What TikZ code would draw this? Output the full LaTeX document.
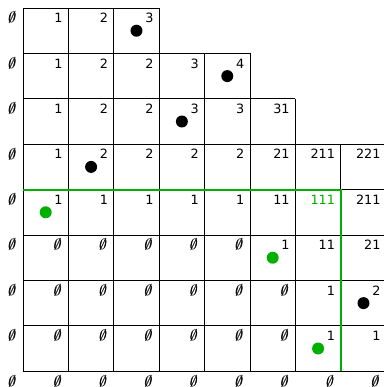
\documentclass[tikz,border=0pt]{standalone}
\usepackage{fontspec}
\setmainfont{DejaVu Sans}
\definecolor{gr}{RGB}{0,175,0}
\newcommand\emptysym{{\fontsize{11}{12}\selectfont\rlap{$\emptyset$}\kern0.3pt$\emptyset$}}
\begin{document}
\begin{tikzpicture}[x=0.75pt,y=-0.75pt,
  lab/.style={font=\fontsize{9.6}{11}\selectfont, inner sep=0pt, anchor=north east, text height=7pt, text depth=0pt},
  esym/.style={inner sep=0pt, anchor=north east, text height=7.6pt, text depth=0pt, xslant=0.2, transform shape},
  grd/.style={line width=0.7pt, black},
  dotb/.style={circle, fill=black, draw=none, minimum size=9pt, inner sep=0pt},
  dotg/.style={dotb, fill=gr},
  gline/.style={gr, line width=1.6pt, line join=miter}]
\useasboundingbox (0,0) rectangle (384,387);
\clip (0,0) rectangle (384,387);
% horizontal grid lines
\foreach \j/\e in {0/3,1/5,2/6,3/8,4/8,5/8,6/8,7/8,8/8}
  \draw[grd] ({23},{8+45.4*\j}) -- ({23+45.4*\e},{8+45.4*\j});
% vertical grid lines
\foreach \i/\s in {0/0,1/0,2/0,3/0,4/1,5/1,6/2,7/3,8/3}
  \draw[grd] ({23+45.4*\i},{8+45.4*\s}) -- ({23+45.4*\i},{8+45.4*8});
% green path
\coordinate (g0) at ({23},{8+45.4*4});
\coordinate (g1) at ({23+45.4*7},{8+45.4*4});
\coordinate (g2) at ({23+45.4*7},{8+45.4*8});
\draw[gline] (g0) -- (g1) -- (g2);
% empty-set labels: columns 0 .. n-1 of each row line
\foreach \j/\n in {0/1,1/1,2/1,3/1,4/1,5/6,6/7,7/7,8/9}
  \foreach \ii in {1,...,\n} {
    \pgfmathtruncatemacro\i{\ii-1}
    \begin{scope}[shift={({23+45.4*\i-5.5},{8+45.4*\j+4.5})}]
      \node[esym] (e\i-\j) at (0,0) {\emptysym};
    \end{scope}
  }
% number labels
\foreach \j/\s/\lst in {
  0/1/{1,2,3},
  1/1/{1,2,2,3,4},
  2/1/{1,2,2,3,3,31},
  3/1/{1,2,2,2,2,21,211,221},
  4/1/{1,1,1,1,1,11,{\color{gr}111},211},
  5/6/{1,11,21},
  6/7/{1,2},
  7/7/{1,1}}
  \foreach \t [count=\i from \s] in \lst
    \node[lab] (v\i-\j) at ({23+45.4*\i-5.5},{8+45.4*\j+5}) {\t};
% dots
\foreach \c/\r [count=\k] in {2/0,4/1,3/2,1/3,7/6}
  \node[dotb] (b\k) at ({23+45.4*(\c+0.5)},{8+45.4*(\r+0.5)}) {};
\foreach \c/\r [count=\k] in {0/4,5/5,6/7}
  \node[dotg] (gd\k) at ({23+45.4*(\c+0.5)},{8+45.4*(\r+0.5)}) {};
\end{tikzpicture}
\end{document}
